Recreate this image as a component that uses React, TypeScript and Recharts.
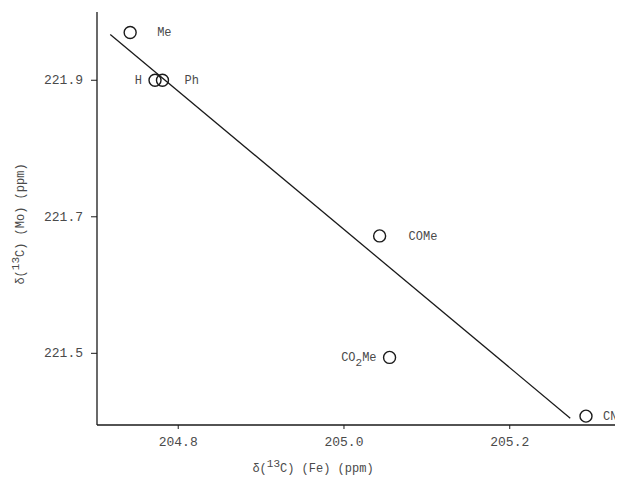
import React from 'react';
import { ScatterChart, Scatter, XAxis, YAxis, ReferenceLine, Customized } from 'recharts';

const substituents = ['Me', 'H', 'Ph', 'COMe', 'CO2Me', 'CN'];
const feShift = [204.742, 204.772, 204.781, 205.043, 205.055, 205.292];
const moShift = [221.970, 221.900, 221.900, 221.672, 221.494, 221.408];
const xTicks = [204.8, 205.0, 205.2];
const yTicks = [221.5, 221.7, 221.9];
const fitStart = { x: 204.718, y: 221.967 };
const fitEnd = { x: 205.273, y: 221.405 };

const data = substituents.map((name, i) => ({ name, x: feShift[i], y: moShift[i] }));

const FONT = '"Liberation Mono", "DejaVu Sans Mono", monospace';
const TEXT = '#4a4a4a';
const INK = '#1a1a1a';

const labelGap: Record<string, number> = {
  Me: 27,
  H: -13,
  Ph: 22,
  COMe: 29,
  CO2Me: -13,
  CN: 17,
};

const PointShape = (props: any) => {
  const { cx, cy, payload } = props;
  const name: string = payload.name;
  const gap = labelGap[name] ?? 20;
  const left = gap < 0;
  const lx = cx + gap;
  const anchor = left ? 'end' : 'start';
  let label: React.ReactNode = name;
  if (name === 'CO2Me') {
    label = (
      <>
        <tspan>CO</tspan>
        <tspan dy={5} fontSize={11}>2</tspan>
        <tspan dy={-5}>Me</tspan>
      </>
    );
  }
  return (
    <g>
      <circle cx={cx} cy={cy} r={6} fill="none" stroke={INK} strokeWidth={1.4} />
      <text x={lx} y={cy + 4} textAnchor={anchor} fontFamily={FONT} fontSize={12} fill={TEXT}>
        {label}
      </text>
    </g>
  );
};

const YTick = (props: any) => {
  const { x, y, payload } = props;
  return (
    <text x={x - 6} y={y + 4} textAnchor="end" fontFamily={FONT} fontSize={13} fill={TEXT}>
      {payload.value.toFixed(1)}
    </text>
  );
};

const XTick = (props: any) => {
  const { x, y, payload } = props;
  return (
    <text x={x} y={y + 15} textAnchor="middle" fontFamily={FONT} fontSize={13} fill={TEXT}>
      {payload.value.toFixed(1)}
    </text>
  );
};

const AxisTitles = () => (
  <g>
    <text x={313} y={472} textAnchor="middle" fontFamily={FONT} fontSize={12} fill={TEXT}>
      <tspan>δ(</tspan>
      <tspan dy={-5} fontSize={11}>13</tspan>
      <tspan dy={5}>C) (Fe) (ppm)</tspan>
    </text>
    <text
      x={24}
      y={224}
      textAnchor="middle"
      fontFamily={FONT}
      fontSize={12}
      fill={TEXT}
      transform="rotate(-90 24 224)"
    >
      <tspan>δ(</tspan>
      <tspan dy={-5} fontSize={11}>13</tspan>
      <tspan dy={5}>C) (Mo) (ppm)</tspan>
    </text>
  </g>
);

export default function App() {
  return (
    <div style={{ position: 'absolute', left: 0, top: 0, background: '#fff' }}>
      <ScatterChart width={620} height={482} margin={{ top: 12, right: 5, bottom: 0, left: 0 }}>
        <XAxis
          type="number"
          dataKey="x"
          domain={[204.702, 205.327]}
          ticks={xTicks}
          tick={<XTick />}
          tickSize={4}
          axisLine={{ stroke: INK, strokeWidth: 1.6 }}
          tickLine={{ stroke: INK }}
          height={57}
          allowDataOverflow
        />
        <YAxis
          type="number"
          dataKey="y"
          domain={[221.395, 222.0]}
          ticks={yTicks}
          tick={<YTick />}
          tickSize={6}
          axisLine={{ stroke: INK, strokeWidth: 1.3 }}
          tickLine={{ stroke: INK }}
          width={97}
          allowDataOverflow
        />
        <ReferenceLine
          segment={[fitStart, fitEnd]}
          stroke={INK}
          strokeWidth={1.3}
          ifOverflow="visible"
        />
        <Scatter data={data} shape={<PointShape />} isAnimationActive={false} />
        <Customized component={AxisTitles} />
      </ScatterChart>
    </div>
  );
}
